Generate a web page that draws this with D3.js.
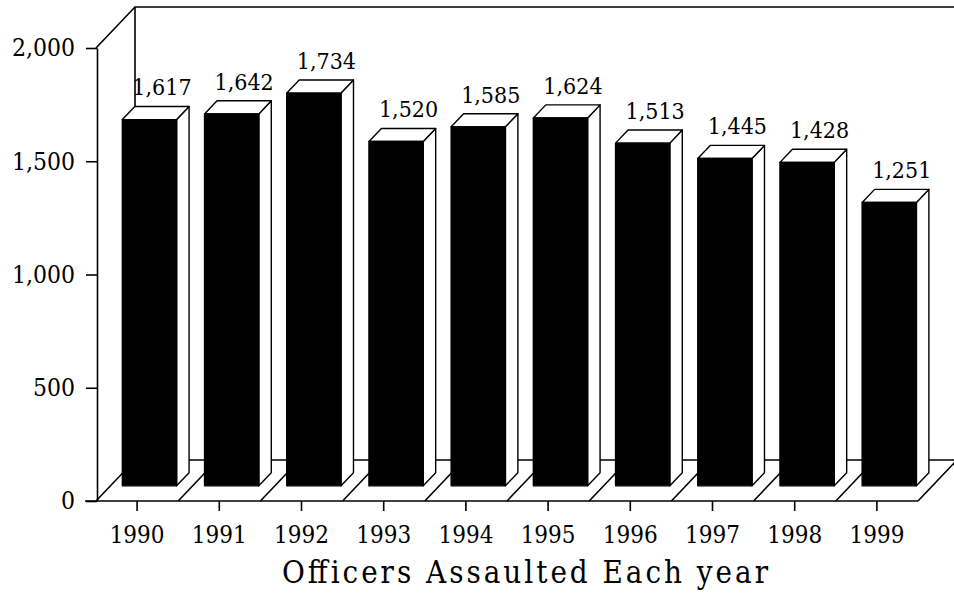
<!DOCTYPE html>
<html>
<head>
<meta charset="utf-8">
<script src="https://cdn.jsdelivr.net/npm/d3@7"></script>
<style>
  html, body { margin: 0; padding: 0; background: #fff; }
  svg text { font-family: "DejaVu Serif Condensed", "DejaVu Serif", serif; font-stretch: condensed; fill: #000; }
</style>
</head>
<body>
<div id="chart"></div>
<script>
const years = ["1990", "1991", "1992", "1993", "1994", "1995", "1996", "1997", "1998", "1999"]
const assaults = [1617, 1642, 1734, 1520, 1585, 1624, 1513, 1445, 1428, 1251]
const yTicks = [0, 500, 1000, 1500, 2000]
const title = "Officers Assaulted Each year"

const width = 954
const height = 593

// front plane of the box and the depth offset of the back wall
const X0 = 96, X1 = 918, Y0 = 501, Y1 = 48
const DX = 39, DY = 41
// depth of the bars inside the box (0 = front, 1 = back)
const Z0 = 0.37, Z1 = 0.69

const svg = d3.select("#chart")
  .append("svg")
  .attr("width", width)
  .attr("height", height)
  .attr("viewBox", [0, 0, width, height])

const x = d3.scaleBand().domain(years).range([X0, X1])
const y = d3.scaleLinear().domain([0, 2000]).range([Y0, Y1])

const proj = (px, py, z) => [px + DX * z, py - DY * z]
const line = d3.line()

const frame = svg.append("g")
  .attr("fill", "none")
  .attr("stroke", "#000")
  .attr("stroke-width", 1.6)

// back wall
frame.append("path").attr("d", line([proj(X0, Y1, 0), proj(X0, Y1, 1), [width + 5, Y1 - DY]]))
frame.append("path").attr("d", line([proj(X0, Y1, 1), proj(X0, Y0, 1), proj(X1 + 60, Y0, 1)]))

// floor
frame.append("path").attr("d", line([proj(X1, Y0, 0), proj(X1, Y0, 1)]))
frame.selectAll(".div")
  .data(years)
  .join("path")
  .attr("d", d => line([proj(x(d), Y0, 0), proj(x(d), Y0, 1)]))

// bars
const bw = x.bandwidth() * 0.66
const bx = d => x(d) + x.bandwidth() * 0.145

const bars = svg.append("g")
  .attr("stroke", "#000")
  .attr("stroke-width", 1.4)
  .attr("stroke-linejoin", "round")
  .selectAll("g")
  .data(years.map((yr, i) => ({ yr, v: assaults[i] })))
  .join("g")

bars.append("path")
  .attr("fill", "#fff")
  .attr("d", d => {
    const L = bx(d.yr), R = L + bw, t = y(d.v), b = y(0)
    return line([proj(R, b, Z0), proj(R, b, Z1), proj(R, t, Z1), proj(R, t, Z0)]) + "Z"
  })

bars.append("path")
  .attr("fill", "#fff")
  .attr("d", d => {
    const L = bx(d.yr), R = L + bw, t = y(d.v)
    return line([proj(L, t, Z0), proj(R, t, Z0), proj(R, t, Z1), proj(L, t, Z1)]) + "Z"
  })

bars.append("path")
  .attr("fill", "#000")
  .attr("d", d => {
    const L = bx(d.yr), R = L + bw, t = y(d.v), b = y(0)
    return line([proj(L, b, Z0), proj(R, b, Z0), proj(R, t, Z0), proj(L, t, Z0)]) + "Z"
  })

// value labels
svg.append("g")
  .selectAll("text")
  .data(years.map((yr, i) => ({ yr, v: assaults[i] })))
  .join("text")
  .attr("x", d => bx(d.yr) + bw / 2 + DX * Z1)
  .attr("y", d => y(d.v) - DY * Z1 - 11)
  .attr("text-anchor", "middle")
  .attr("font-size", 23)
  .text(d => d3.format(",")(d.v))

// y axis
const yAxis = svg.append("g")
  .attr("transform", `translate(${X0 + 1},0)`)
  .call(d3.axisLeft(y).tickValues(yTicks).tickFormat(d3.format(",")).tickSize(11).tickSizeOuter(0).tickPadding(11))
yAxis.selectAll("path, line").attr("stroke-width", 1.6)
yAxis.selectAll("text").attr("font-size", 24.5).attr("font-family", null)

// x axis
const xAxis = svg.append("g")
  .attr("transform", `translate(0,${Y0})`)
  .call(d3.axisBottom(x).tickSize(10).tickSizeOuter(0))
xAxis.select(".domain").attr("d", `M${X0 - 11},0H${X1}`).attr("stroke-width", 1.6)
xAxis.selectAll("line").attr("stroke-width", 1.6)
xAxis.selectAll("text")
  .attr("font-size", 24)
  .attr("font-family", null)
  .attr("dy", null)
  .attr("y", 42)

svg.append("text")
  .attr("x", 525)
  .attr("y", 583)
  .attr("text-anchor", "middle")
  .attr("font-size", 31)
  .attr("textLength", 486)
  .attr("lengthAdjust", "spacing")
  .style("font-stretch", "normal")
  .text(title)
</script>
</body>
</html>
